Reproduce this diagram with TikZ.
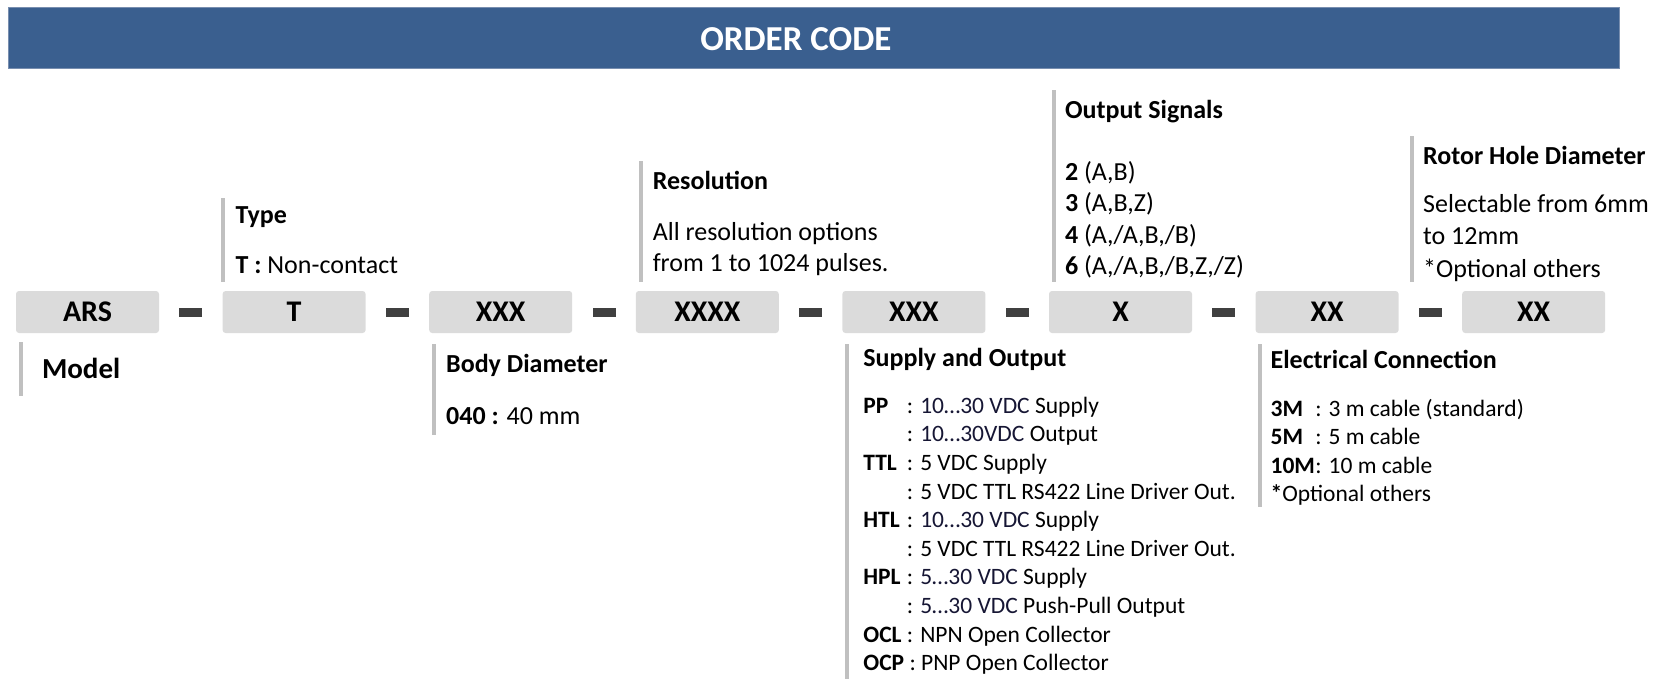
\documentclass[tikz,border=0pt]{standalone}
\usepackage{fontspec}
\setmainfont{Carlito}
\usetikzlibrary{positioning}

\definecolor{bannerblue}{RGB}{58,95,143}
\definecolor{bannerline}{RGB}{120,142,175}
\definecolor{boxgray}{RGB}{219,219,219}
\definecolor{bargray}{RGB}{192,192,192}
\definecolor{dashgray}{RGB}{64,64,64}
\definecolor{voltnavy}{RGB}{22,22,52}

\newcommand{\titlefont}{\fontsize{26}{31}\selectfont\bfseries}
\newcommand{\bodyfont}{\fontsize{26}{31}\selectfont}
\newcommand{\listfont}{\fontsize{23.5}{28.6}\selectfont}
\newcommand{\volt}[1]{\textcolor{voltnavy}{#1}}
\newcommand{\sopt}[1]{\makebox[1.85em][l]{\bfseries #1}}
\newcommand{\copt}[1]{\makebox[1.9em][l]{\bfseries #1}}

\begin{document}
\begin{tikzpicture}[x=1pt, y=-1pt, node distance=19.9pt,
  codebox/.style={fill=boxgray, rounded corners=3pt, minimum width=143pt,
    minimum height=42pt, inner sep=0pt, font=\fontsize{30}{36}\selectfont\bfseries},
  dashbar/.style={fill=dashgray, minimum width=23pt, minimum height=9pt, inner sep=0pt},
  infoblock/.style={inner xsep=12pt, inner ysep=0pt, align=left, font=\bodyfont},
  barline/.style={draw=bargray, line width=4pt}]
\useasboundingbox (0,0) rectangle (1660,694);

% banner
\node[fill=bannerblue, draw=bannerline, line width=0.8pt, minimum width=1611pt,
      minimum height=61pt, inner sep=0pt, anchor=north west] (banner) at (8,6.5) {};
\node[text=white, font=\fontsize{35}{40}\selectfont\bfseries] (ordertitle)
      at ([xshift=-18pt,yshift=-2pt]banner.center) {ORDER CODE};

% code row
\node[codebox] (ars) at (87.5,312) {ARS};
\node[dashbar, right=of ars] (d1) {};
\node[codebox, right=of d1] (typ) {T};
\node[dashbar, right=of typ] (d2) {};
\node[codebox, right=of d2] (body) {XXX};
\node[dashbar, right=of body] (d3) {};
\node[codebox, right=of d3] (res) {XXXX};
\node[dashbar, right=of res] (d4) {};
\node[codebox, right=of d4] (supp) {XXX};
\node[dashbar, right=of supp] (d5) {};
\node[codebox, right=of d5] (outs) {X};
\node[dashbar, right=of outs] (d6) {};
\node[codebox, right=of d6] (conn) {XX};
\node[dashbar, right=of conn] (d7) {};
\node[codebox, right=of d7] (hole) {XX};

% descriptions below the row
\node[infoblock, inner xsep=21pt, minimum height=53pt, anchor=north west,
      font=\fontsize{29}{34}\selectfont\bfseries] (modelinfo)
      at ([xshift=5pt,yshift=-9pt]ars.south west) {Model};
\draw[barline] (modelinfo.north west) -- (modelinfo.south west);

\node[infoblock, minimum height=90pt, anchor=north west] (bodyinfo)
      at ([xshift=5pt,yshift=-11pt]body.south west)
      {{\titlefont Body Diameter}\\[21pt]\textbf{040 :} 40 mm};
\draw[barline] (bodyinfo.north west) -- (bodyinfo.south west);

\node[infoblock, inner xsep=16pt, minimum height=334pt, anchor=north west,
      font=\listfont] (suppinfo)
      at ([xshift=5pt,yshift=-11pt]supp.south west)
      {{\titlefont Supply and Output}\\[18pt]
       \sopt{PP}: \volt{10…30 VDC} Supply\\
       \sopt{}: \volt{10…30VDC} Output\\
       \sopt{TTL}: 5 VDC Supply\\
       \sopt{}: 5 VDC TTL RS422 Line Driver Out.\\
       \sopt{HTL}: \volt{10…30 VDC} Supply\\
       \sopt{}: 5 VDC TTL RS422 Line Driver Out.\\
       \sopt{HPL}: \volt{5…30 VDC} Supply\\
       \sopt{}: \volt{5…30 VDC} Push-Pull Output\\
       \sopt{OCL}: NPN Open Collector\\
       \textbf{OCP} : PNP Open Collector};
\draw[barline] (suppinfo.north west) -- (suppinfo.south west);

\node[infoblock, inner xsep=10pt, minimum height=162pt, anchor=north west,
      font=\listfont] (conninfo)
      at ([xshift=5pt,yshift=-11pt]conn.south west)
      {{\titlefont\rule{0pt}{23.5pt}Electrical Connection}\\[19pt]
       \copt{3M}: 3 m cable (standard)\\
       \copt{5M}: 5 m cable\\
       \copt{10M}: 10 m cable\\
       \textbf{*}Optional others};
\draw[barline] (conninfo.north west) -- (conninfo.south west);

% descriptions above the row
\node[infoblock, minimum height=83pt, anchor=south west] (typinfo)
      at ([xshift=1pt,yshift=9pt]typ.north west)
      {{\titlefont Type}\\[19pt]\textbf{T :} Non-contact};
\draw[barline] (typinfo.north west) -- (typinfo.south west);

\node[infoblock, minimum height=120pt, anchor=south west] (resinfo)
      at ([xshift=5pt,yshift=9pt]res.north west)
      {{\titlefont\rule{0pt}{22.5pt}Resolution}\\[20pt]All resolution options\\from 1 to 1024 pulses.};
\draw[barline] (resinfo.north west) -- (resinfo.south west);

\node[infoblock, inner xsep=11pt, minimum height=191pt, anchor=south west,
      font=\fontsize{26}{31.5}\selectfont] (outsinfo)
      at ([xshift=5pt,yshift=9pt]outs.north west)
      {{\titlefont\rule{0pt}{24.5pt}Output Signals}\\[30pt]
       \textbf{2} (A,B)\\
       \textbf{3} (A,B,Z)\\
       \textbf{4} (A,/A,B,/B)\\
       \textbf{6} (A,/A,B,/B,Z,/Z)};
\draw[barline] (outsinfo.north west) -- (outsinfo.south west);

\node[infoblock, inner xsep=11pt, minimum height=143pt, anchor=south west,
      font=\fontsize{26}{32.5}\selectfont] (holeinfo)
      at ([xshift=-50pt,yshift=9pt]hole.north west)
      {{\titlefont\rule{0pt}{28.5pt}Rotor Hole Diameter}\\[15pt]Selectable from 6mm\\to 12mm\\*Optional others};
\draw[barline] (holeinfo.north west) -- (holeinfo.south west);
\end{tikzpicture}
\end{document}
